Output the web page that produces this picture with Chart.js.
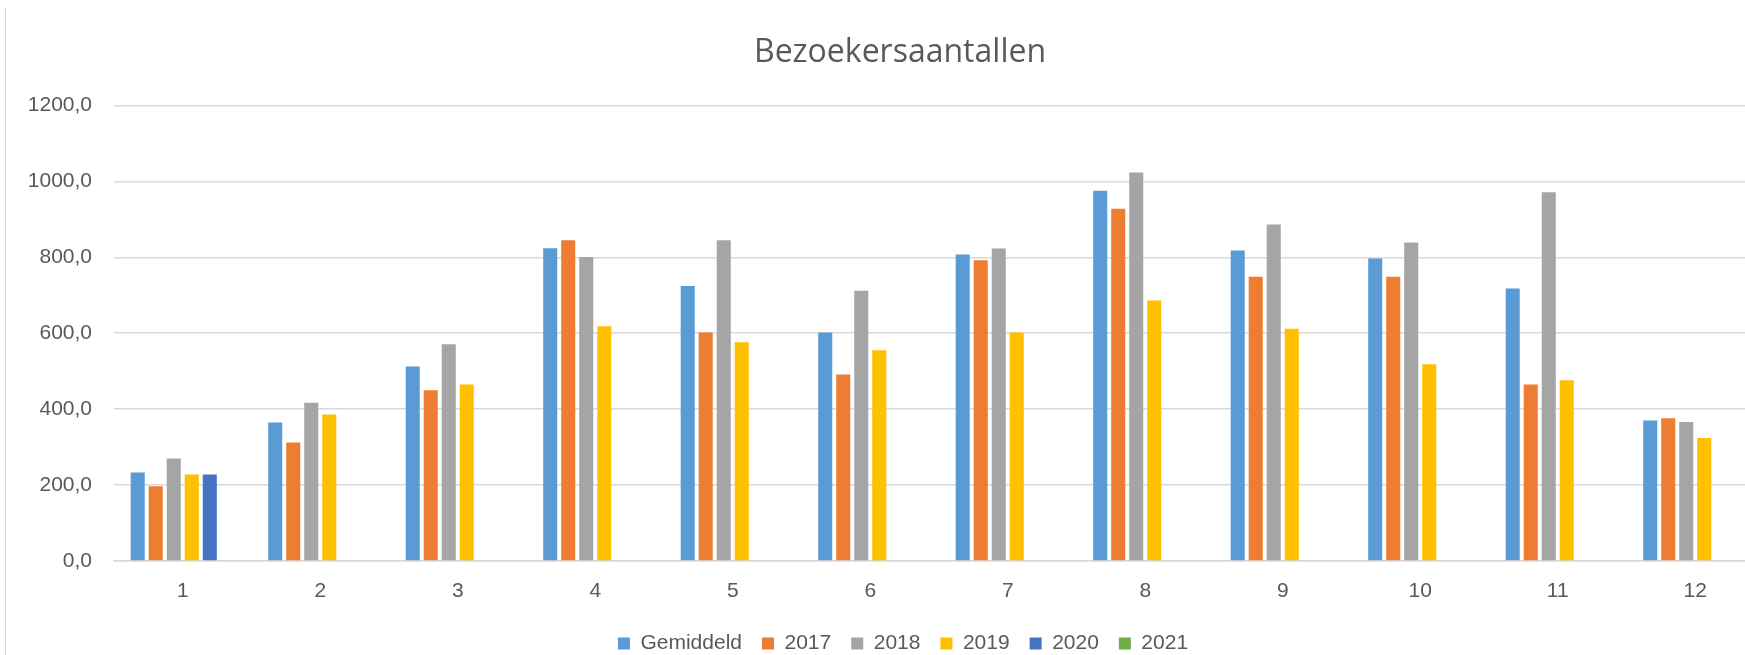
<!DOCTYPE html>
<html>
<head>
<meta charset="utf-8">
<title>Bezoekersaantallen</title>
<script src="https://cdn.jsdelivr.net/npm/chart.js@4/dist/chart.umd.min.js"></script>
<style>
  html, body { margin: 0; padding: 0; background: #fff; overflow: hidden; }
  #frame { position: absolute; left: 5px; top: 8px; width: 1px; height: 647px; background: #d9d9d9; }
  #wrap { position: absolute; left: 0; top: 0; width: 1800px; height: 655px; }
</style>
</head>
<body>
<div id="wrap"><canvas id="bezoekChart"></canvas></div>
<div id="frame"></div>
<script>
const months = ['1', '2', '3', '4', '5', '6', '7', '8', '9', '10', '11', '12'];

const gemiddeld = [233, 365, 512, 824, 724, 602, 807, 975, 818, 797, 718, 370];
const jaar2017 = [197, 312, 450, 845, 602, 491, 792, 928, 749, 749, 465, 376];
const jaar2018 = [270, 417, 571, 801, 845, 712, 823, 1023, 886, 839, 971, 366];
const jaar2019 = [228, 386, 465, 618, 576, 555, 602, 686, 612, 518, 476, 324];
const jaar2020 = [228, null, null, null, null, null, null, null, null, null, null, null];
const jaar2021 = [null, null, null, null, null, null, null, null, null, null, null, null];

const yTicks = [0, 200, 400, 600, 800, 1000, 1200];

const textGrey = '#595959';
const gridGrey = '#d9d9d9';

function makeSet(label, values, color) {
  return {
    label: label,
    data: values,
    backgroundColor: color,
    borderWidth: 0,
    barPercentage: 0.78,
    categoryPercentage: 0.786,
  };
}

// title and legend sit a bit right of the plot centre in the original
const nudgeBoxes = {
  id: 'nudgeBoxes',
  afterLayout(chart) {
    chart.titleBlock.left += 7;
    chart.titleBlock.right += 7;
    chart.legend.left += 10;
    chart.legend.right += 10;
  },
};

const ctx = document.getElementById('bezoekChart').getContext('2d');

new Chart(ctx, {
  type: 'bar',
  data: {
    labels: months,
    datasets: [
      makeSet('Gemiddeld', gemiddeld, '#5B9BD5'),
      makeSet('2017', jaar2017, '#ED7D31'),
      makeSet('2018', jaar2018, '#A5A5A5'),
      makeSet('2019', jaar2019, '#FFC000'),
      makeSet('2020', jaar2020, '#4472C4'),
      makeSet('2021', jaar2021, '#70AD47'),
    ],
  },
  plugins: [nudgeBoxes],
  options: {
    responsive: true,
    maintainAspectRatio: false,
    animation: false,
    layout: {
      padding: {left: 22, right: 36, top: 0, bottom: -9},
    },
    plugins: {
      title: {
        display: true,
        text: 'Bezoekersaantallen',
        color: textGrey,
        font: {family: 'Open Sans', size: 32, weight: 'normal'},
        padding: {top: 34, bottom: 33},
      },
      legend: {
        position: 'bottom',
        labels: {
          color: textGrey,
          font: {family: 'Liberation Sans', size: 21},
          boxWidth: 12,
          boxHeight: 12,
          padding: 20,
        },
      },
      tooltip: {enabled: false},
    },
    scales: {
      x: {
        grid: {display: false, drawTicks: false},
        border: {display: true, color: gridGrey, width: 1.5},
        ticks: {
          color: textGrey,
          font: {family: 'Liberation Sans', size: 21},
          padding: 18,
        },
        afterFit: (scale) => { scale.height = 52; },
      },
      y: {
        min: 0,
        max: 1200,
        afterBuildTicks: (scale) => {
          scale.ticks = yTicks.map((v) => ({value: v}));
        },
        grid: {color: gridGrey, lineWidth: 1.5, drawTicks: false},
        border: {display: false},
        ticks: {
          color: textGrey,
          font: {family: 'Liberation Sans', size: 21},
          padding: 22,
          callback: (v) => v.toFixed(1).replace('.', ','),
        },
        afterFit: (scale) => { scale.width = 92; },
      },
    },
  },
});
</script>
</body>
</html>
